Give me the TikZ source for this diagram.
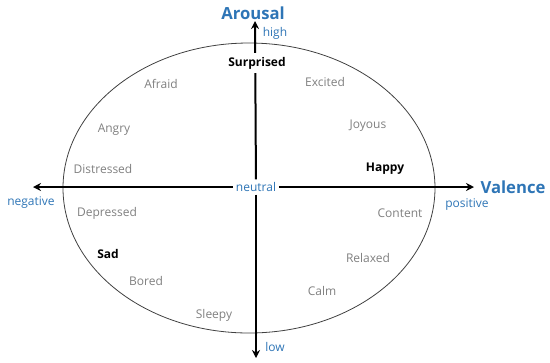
\documentclass[tikz,border=0pt]{standalone}
\usepackage{fontspec}
\setmainfont{Open Sans}
\usetikzlibrary{arrows.meta}
\definecolor{axblue}{HTML}{2E75B6}
\definecolor{emgray}{HTML}{808080}
\begin{document}
\begin{tikzpicture}[x=0.75pt,y=-0.75pt,
  emo/.style={text=emgray,font=\fontsize{9}{11}\selectfont,inner sep=0pt},
  emob/.style={text=black,font=\fontsize{9}{11}\selectfont\bfseries,inner sep=1pt,fill=white},
  axlab/.style={text=axblue,font=\fontsize{9}{11}\selectfont,inner sep=0pt},
  axtitle/.style={text=axblue,font=\fontsize{12.5}{15}\selectfont\bfseries,inner sep=0pt},
  axis/.style={line width=1.5pt,-{Stealth[length=6pt,width=6pt]}}]
\useasboundingbox (0,0) rectangle (550,362);
\draw[line width=0.6pt,black!75] (249,188) ellipse [x radius=186, y radius=145];
\node[axlab,fill=white,inner sep=2pt] (neutral) at (256,187) {neutral};
\coordinate (up) at (255,21);
\coordinate (down) at (256,358);
\coordinate (left) at (33,187);
\coordinate (right) at (474,187);
\draw[axis] (neutral) -- (up);
\draw[axis] (neutral) -- (down);
\draw[axis] (neutral) -- (left);
\draw[axis] (neutral) -- (right);
\node[emob,inner ysep=3pt] (surprised) at (257,63) {Surprised};
\node[axtitle] (arousal) at (253,13) {Arousal};
\node[axlab] (high) at (275,33) {high};
\node[axlab] (low) at (275,347) {low};
\node[axtitle] (valence) at (513,187) {Valence};
\node[axlab] (positive) at (467,205) {positive};
\node[axlab] (negative) at (31,203) {negative};
\node[emo] (afraid) at (161,84) {Afraid};
\node[emo] (angry) at (114,130) {Angry};
\node[emo] (distressed) at (103,169) {Distressed};
\node[emo] (excited) at (325,82) {Excited};
\node[emo] (joyous) at (368,126) {Joyous};
\node[emob,fill=none] (happy) at (385,169) {Happy};
\node[emo] (depressed) at (107,213) {Depressed};
\node[emob,fill=none] (sad) at (108,254) {Sad};
\node[emo] (bored) at (146,281) {Bored};
\node[emo] (sleepy) at (214,315) {Sleepy};
\node[emo] (content) at (400,213) {Content};
\node[emo] (relaxed) at (368,258) {Relaxed};
\node[emo] (calm) at (322,291) {Calm};
\end{tikzpicture}
\end{document}
